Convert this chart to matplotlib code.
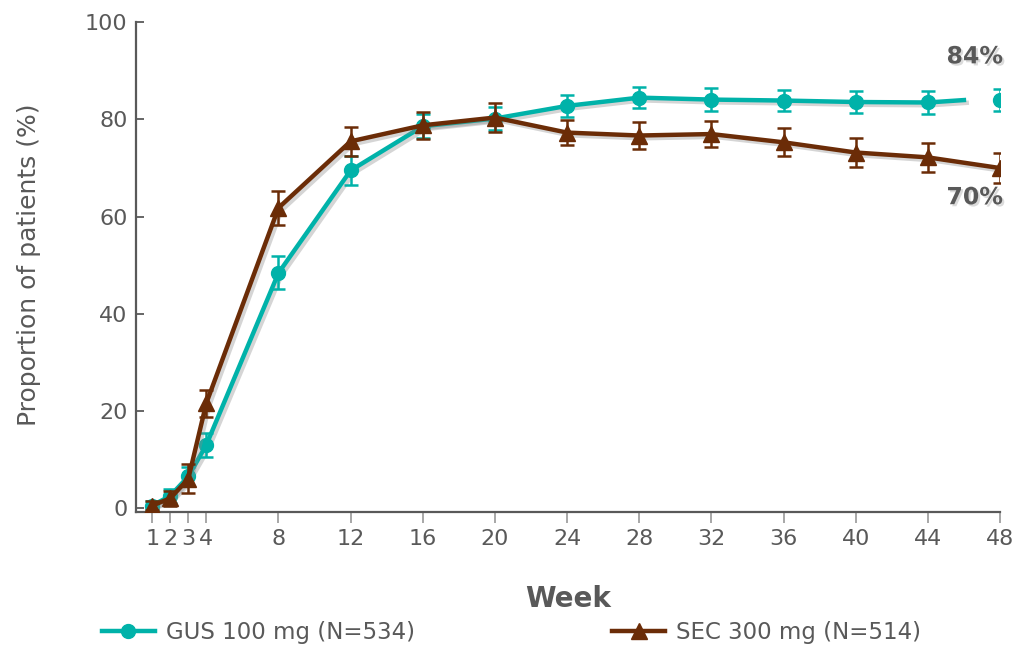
import matplotlib
matplotlib.use("Agg")
import matplotlib.pyplot as plt
import matplotlib.patheffects as pe
from matplotlib.lines import Line2D

# values
weeks = [1, 2, 3, 4, 8, 12, 16, 20, 24, 28, 32, 36, 40, 44, 48]
gus = [0.5, 2.5, 6.5, 13.0, 48.4, 69.5, 78.6, 80.2, 82.8, 84.5, 84.1, 83.9, 83.6, 83.5, 84.0]
gus_err = [1.0, 1.5, 2.0, 2.5, 3.4, 3.0, 2.5, 2.3, 2.2, 2.2, 2.3, 2.2, 2.3, 2.3, 2.3]
sec = [0.5, 2.0, 6.0, 21.6, 61.8, 75.5, 78.8, 80.4, 77.3, 76.7, 77.0, 75.3, 73.2, 72.2, 70.0]
sec_err = [1.0, 1.5, 3.0, 2.8, 3.5, 3.0, 2.8, 3.0, 2.5, 2.8, 2.7, 2.9, 3.0, 3.0, 3.0]
# GUS connecting line stops short of week 48
gus_line_end = (46, 84.0)

xticks = [1, 2, 3, 4, 8, 12, 16, 20, 24, 28, 32, 36, 40, 44, 48]
yticks = [0, 20, 40, 60, 80, 100]

TEAL = "#00b2a9"
BROWN = "#6b2c07"
GREY = "#595959"

shadow = [pe.SimpleLineShadow(offset=(2, -2), shadow_color="#888888", alpha=0.35), pe.Normal()]
tshadow = [pe.withSimplePatchShadow(offset=(1.5, -1.5), shadow_rgbFace="#999999", alpha=0.35)]

plt.rcParams["font.family"] = ["DejaVu Sans"]

fig = plt.figure(figsize=(10.17, 6.48), dpi=100)
ax = fig.add_axes([0.1337, 0.21, 0.8496, 0.763])

# GUS: line through weeks 1-44 and on to week 46, week 48 stands alone
ax.plot(weeks[:-1] + [gus_line_end[0]], gus[:-1] + [gus_line_end[1]],
        color=TEAL, lw=3.2, zorder=3, path_effects=shadow)
ax.errorbar(weeks, gus, yerr=gus_err, fmt="o", color=TEAL, ms=10,
            ecolor=TEAL, elinewidth=1.8, capsize=5, capthick=1.8, zorder=4)

ax.plot(weeks, sec, color=BROWN, lw=3.2, zorder=5, path_effects=shadow)
ax.errorbar(weeks, sec, yerr=sec_err, fmt="^", color=BROWN, ms=11,
            ecolor=BROWN, elinewidth=1.8, capsize=5, capthick=1.8, zorder=6)

ax.text(46.6, 93.0, "84%", color=GREY, fontsize=17, fontweight="bold",
        ha="center", va="center", path_effects=tshadow)
ax.text(46.6, 64.0, "70%", color=GREY, fontsize=17, fontweight="bold",
        ha="center", va="center", path_effects=tshadow)

ax.set_xlim(0.1, 48)
ax.set_ylim(-0.8, 101)
ax.set_xticks(xticks)
ax.set_xticklabels([str(w) for w in xticks])
ax.set_yticks(yticks)

for side in ("top", "right"):
    ax.spines[side].set_visible(False)
for side in ("left", "bottom"):
    ax.spines[side].set_color(GREY)
    ax.spines[side].set_linewidth(1.6)
ax.spines["left"].set_bounds(-0.8, 100)

ax.tick_params(axis="y", direction="in", length=6, width=1.3, color=GREY,
               labelcolor=GREY, labelsize=16, pad=6)
ax.tick_params(axis="x", direction="out", length=8, width=1.3, color="#a0a0a0",
               labelcolor=GREY, labelsize=16, pad=4)

ax.set_ylabel("Proportion of patients (%)", color=GREY, fontsize=18, labelpad=32)
ax.set_xlabel("Week", color=GREY, fontsize=20, fontweight="bold", labelpad=26)

handles = [
    Line2D([], [], color=TEAL, lw=3.2, marker="o", ms=10),
    Line2D([], [], color=BROWN, lw=3.2, marker="^", ms=11),
]
labels = ["GUS 100 mg (N=534)", "SEC 300 mg (N=514)"]
fig.legend(handles, labels, loc="lower left", bbox_to_anchor=(0.08, -0.025),
           ncol=2, frameon=False, fontsize=16.5, labelcolor=GREY,
           handlelength=2.3, handletextpad=0.5, columnspacing=8.6)

fig.savefig("out.png", dpi=100)
